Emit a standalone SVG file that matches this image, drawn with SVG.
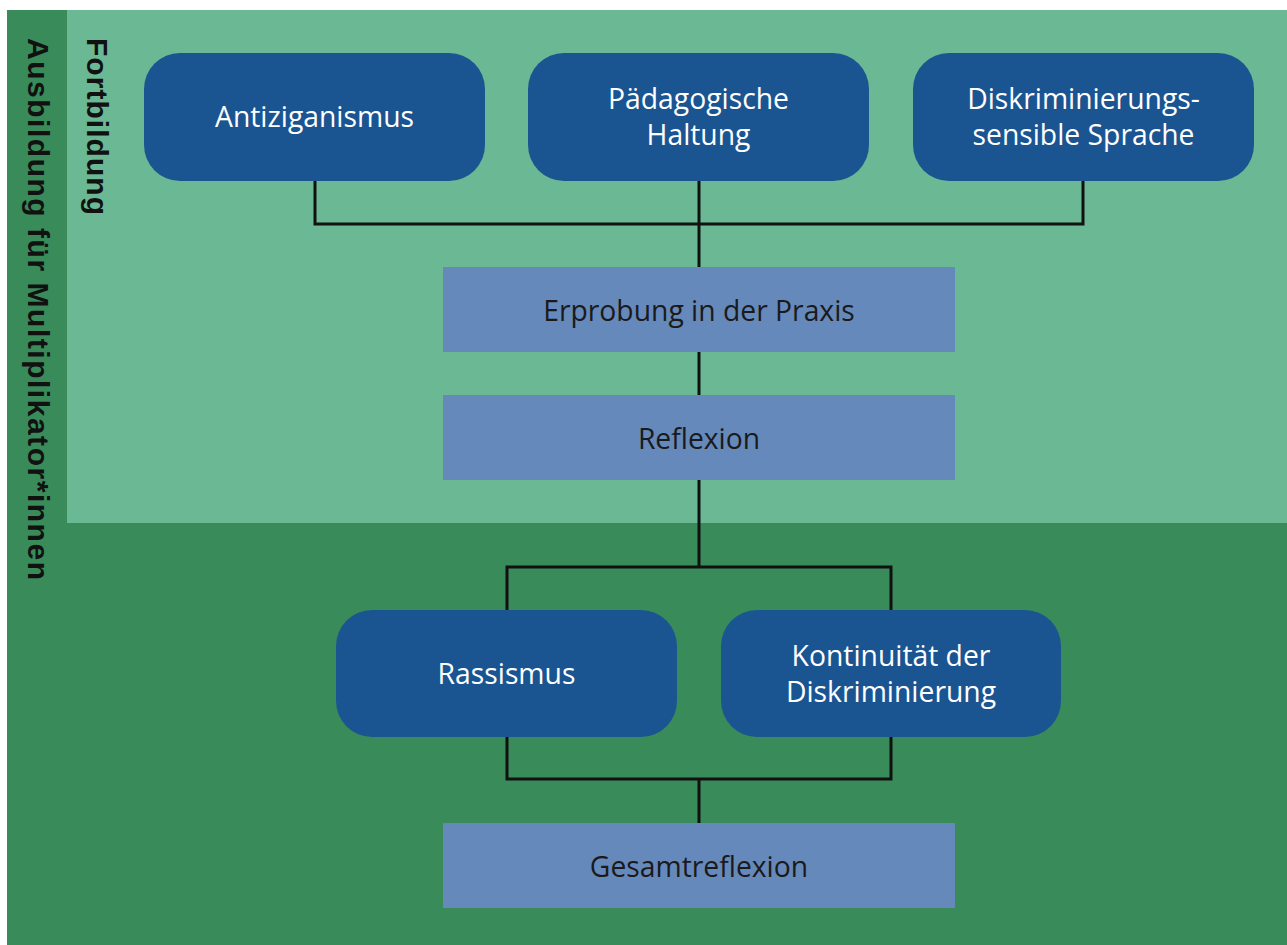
<svg xmlns="http://www.w3.org/2000/svg" width="1287" height="945" viewBox="0 0 1287 945">
<style>
.bg-dark{fill:#3a8b5a}
.bg-light{fill:#6ab894}
.topic rect{fill:#1a5592}
.topic text{fill:#ffffff;font-family:"Open Sans","Noto Sans",sans-serif;font-size:28.3px;text-anchor:middle}
.step rect{fill:#6689bb}
.step text{fill:#1a1a1a;font-family:"Open Sans","Noto Sans",sans-serif;font-size:28.3px;text-anchor:middle}
.side{fill:#111111;font-family:"Liberation Sans",Arial,sans-serif;font-weight:bold;font-size:30px}
#connectors path{fill:none;stroke:#111111;stroke-width:3}
</style>
<rect x="0" y="0" width="1287" height="945" fill="#ffffff"/>
<rect class="bg-dark" x="7" y="10" width="1280" height="935"/>
<rect class="bg-light" x="67" y="10" width="1220" height="513"/>
<text class="side" transform="translate(28,38) rotate(90)" textLength="542" lengthAdjust="spacing">Ausbildung für Multiplikator*innen</text>
<text class="side" transform="translate(87,38) rotate(90)" textLength="177" lengthAdjust="spacing">Fortbildung</text>
<g id="connectors">
<path d="M315 181 V224 H1083 V181 M699 181 V267"/>
<path d="M699 352 V395"/>
<path d="M699 480 V567 M507 610 V567 H891 V610"/>
<path d="M507 737 V779 H891 V737 M699 779 V823"/>
</g>
<g id="antiziganismus" class="topic"><rect x="144" y="53" width="341" height="128" rx="36"/><text x="314.5" y="127">Antiziganismus</text></g>
<g id="paedagogische-haltung" class="topic"><rect x="528" y="53" width="341" height="128" rx="36"/><text x="698.5" y="109">Pädagogische</text><text x="698.5" y="145">Haltung</text></g>
<g id="sensible-sprache" class="topic"><rect x="913" y="53" width="341" height="128" rx="36"/><text x="1083.5" y="109">Diskriminierungs-</text><text x="1083.5" y="145">sensible Sprache</text></g>
<g id="erprobung" class="step"><rect x="443" y="267" width="512" height="85"/><text x="699" y="321">Erprobung in der Praxis</text></g>
<g id="reflexion" class="step"><rect x="443" y="395" width="512" height="85"/><text x="699" y="449">Reflexion</text></g>
<g id="rassismus" class="topic"><rect x="336" y="610" width="341" height="127" rx="36"/><text x="506.5" y="684">Rassismus</text></g>
<g id="kontinuitaet" class="topic"><rect x="721" y="610" width="340" height="127" rx="36"/><text x="891" y="666">Kontinuität der</text><text x="891" y="702">Diskriminierung</text></g>
<g id="gesamtreflexion" class="step"><rect x="443" y="823" width="512" height="85"/><text x="699" y="877">Gesamtreflexion</text></g>
</svg>
